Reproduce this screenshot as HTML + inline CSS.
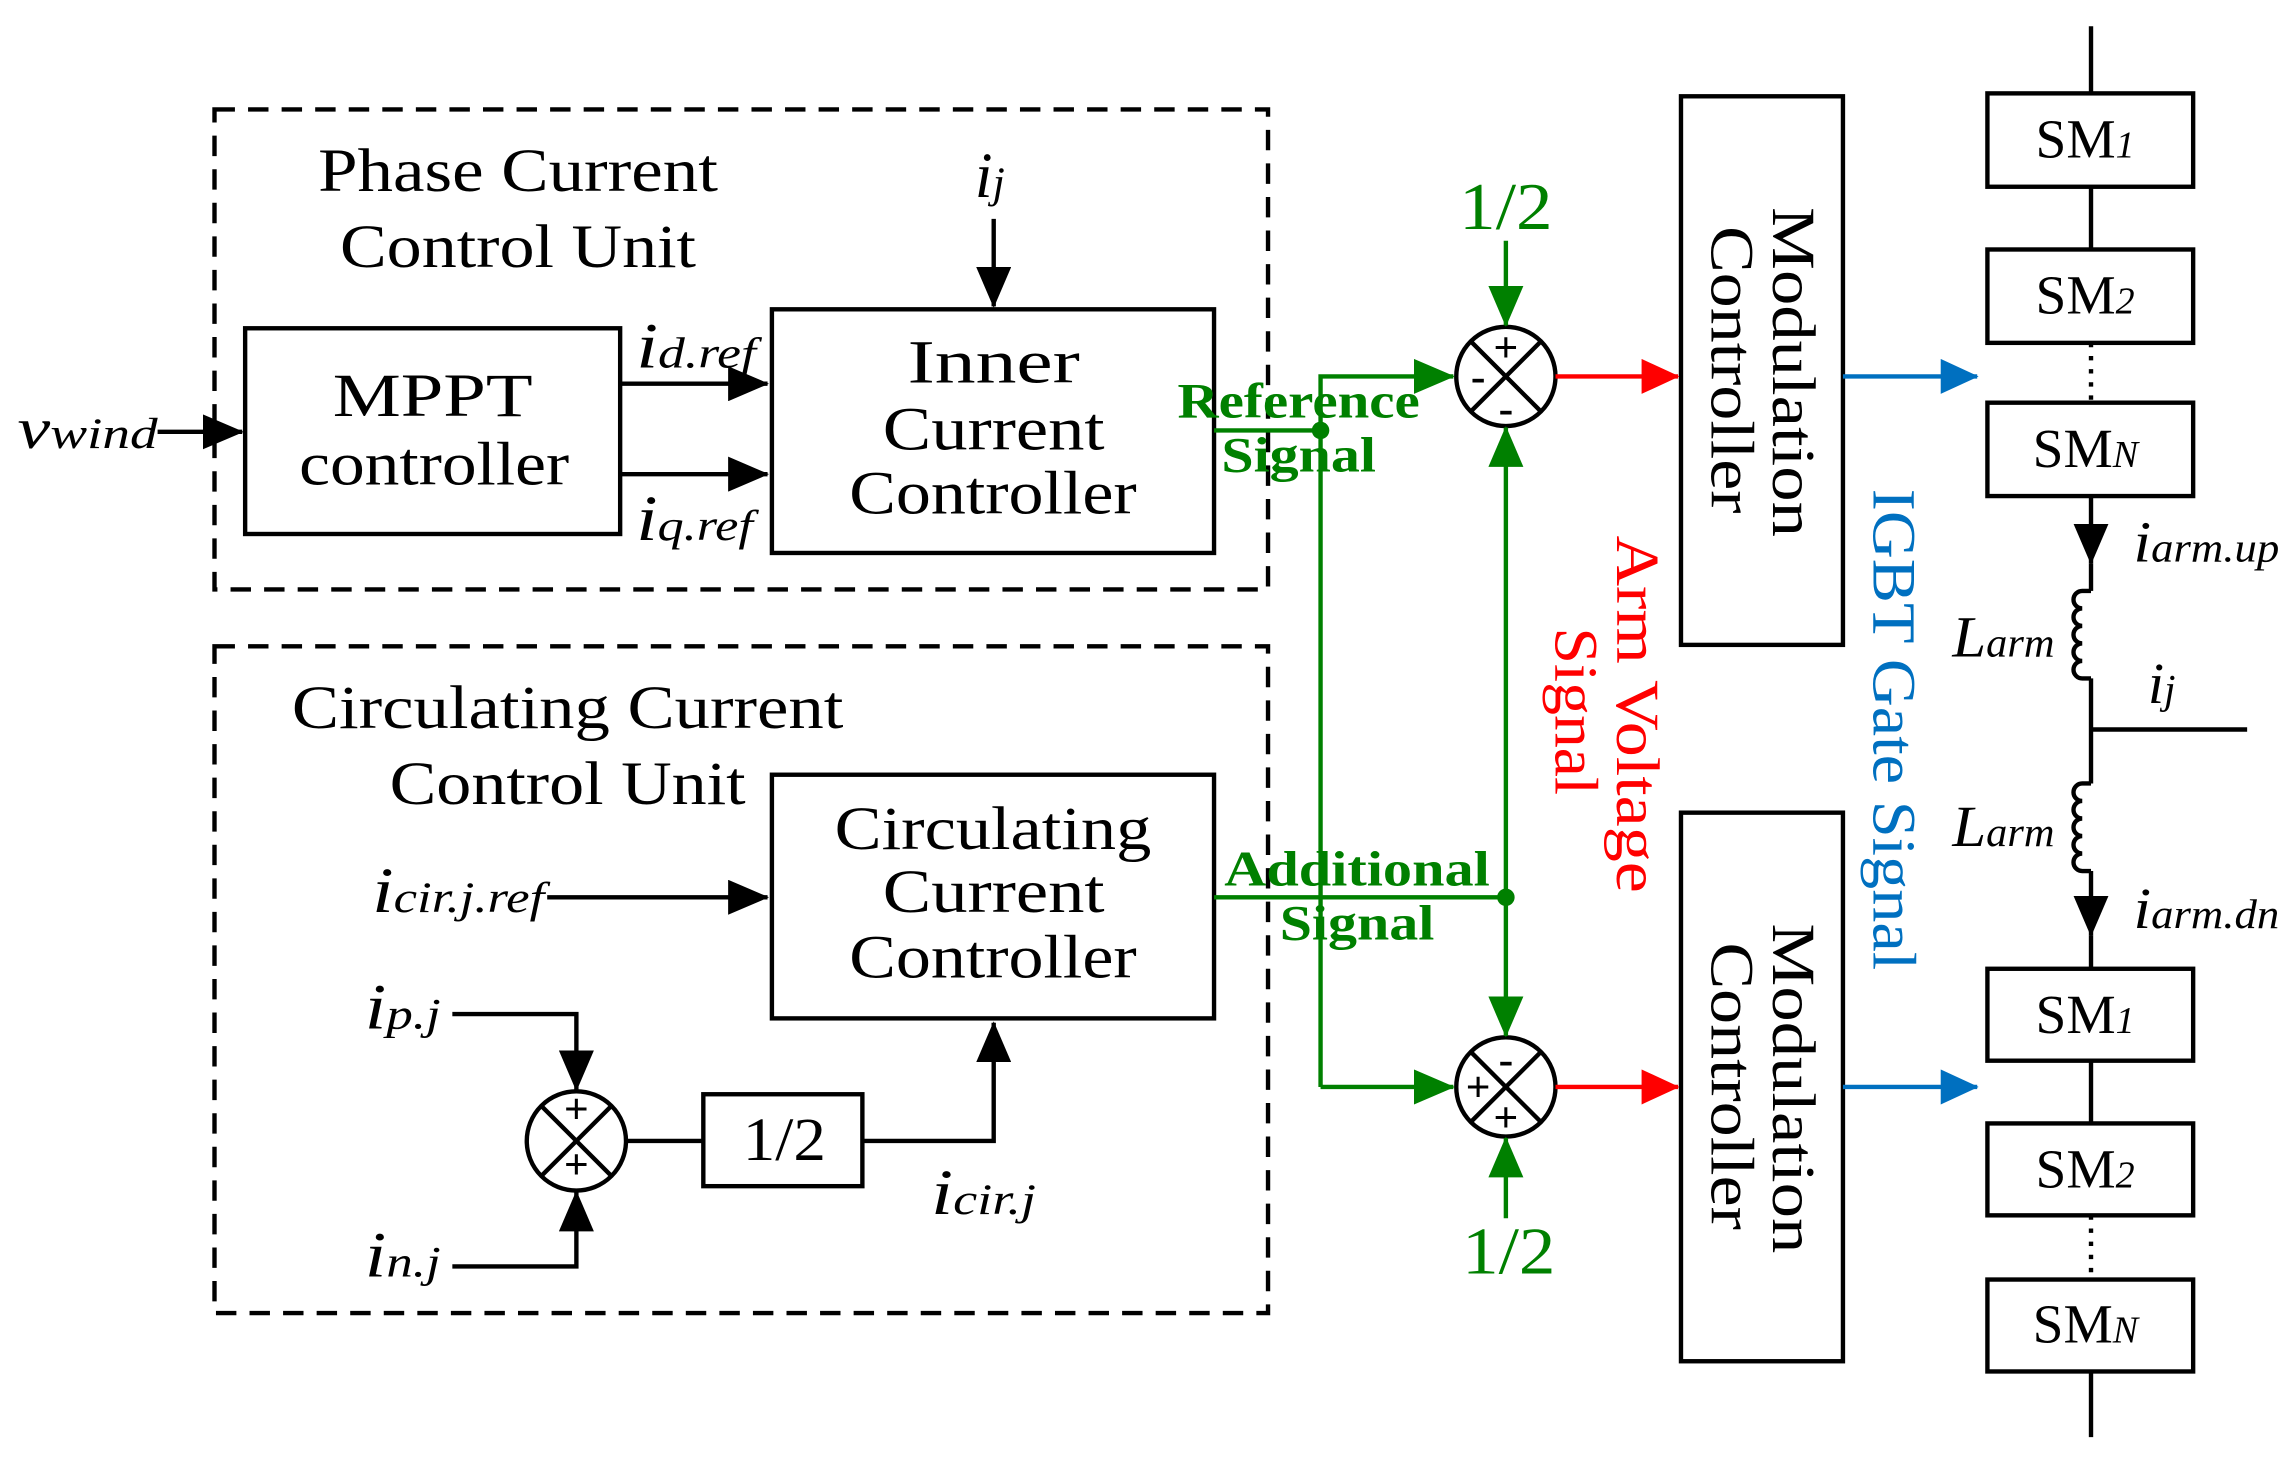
<!DOCTYPE html>
<html><head><meta charset="utf-8"><style>
html,body{margin:0;padding:0;background:#fff;}
svg{display:block;}
text{font-family:"Liberation Serif",serif;}
</style></head><body>
<svg width="2288" height="1459" viewBox="0 0 1568 1000" preserveAspectRatio="none" xmlns="http://www.w3.org/2000/svg">
<defs>
<marker id="ag" markerWidth="28" markerHeight="24" refX="27" refY="12" orient="auto" markerUnits="userSpaceOnUse"><path d="M0,0 L28,12 L0,24 z" fill="#008000"/></marker>
<marker id="ab" markerWidth="28" markerHeight="24" refX="27" refY="12" orient="auto" markerUnits="userSpaceOnUse"><path d="M0,0 L28,12 L0,24 z" fill="#000"/></marker>
<marker id="ar" markerWidth="26" markerHeight="24" refX="25" refY="12" orient="auto" markerUnits="userSpaceOnUse"><path d="M0,0 L26,12 L0,24 z" fill="#ff0000"/></marker>
<marker id="au" markerWidth="26" markerHeight="24" refX="25" refY="12" orient="auto" markerUnits="userSpaceOnUse"><path d="M0,0 L26,12 L0,24 z" fill="#0070c0"/></marker>
</defs>
<g fill="none" stroke="#000" stroke-width="3">
<rect x="147" y="75" width="722" height="329" stroke-dasharray="14,9"/>
<rect x="147" y="443" width="722" height="457" stroke-dasharray="14,9"/>
<rect x="168" y="225" width="257" height="141"/>
<rect x="529" y="212" width="303" height="167"/>
<rect x="529" y="531" width="303" height="167"/>
<rect x="482" y="750" width="109" height="63"/>
<rect x="1152" y="66" width="111" height="376"/>
<rect x="1152" y="557" width="111" height="376"/>
<rect x="1362" y="64" width="141" height="64"/>
<rect x="1362" y="171" width="141" height="64"/>
<rect x="1362" y="276" width="141" height="64"/>
<rect x="1362" y="664" width="141" height="63"/>
<rect x="1362" y="770" width="141" height="63"/>
<rect x="1362" y="877" width="141" height="63"/>
</g>
<g stroke="#000" stroke-width="3" fill="none">
<line x1="108" y1="296" x2="166" y2="296" marker-end="url(#ab)"/>
<line x1="425" y1="263" x2="526" y2="263" marker-end="url(#ab)"/>
<line x1="425" y1="325" x2="526" y2="325" marker-end="url(#ab)"/>
<line x1="681" y1="150" x2="681" y2="210" marker-end="url(#ab)"/>
<line x1="375" y1="615" x2="526" y2="615" marker-end="url(#ab)"/>
<polyline points="310,695 395,695 395,747" marker-end="url(#ab)"/>
<polyline points="310,868 395,868 395,817" marker-end="url(#ab)"/>
<line x1="429" y1="782" x2="482" y2="782"/>
<polyline points="591,782 681,782 681,701" marker-end="url(#ab)"/>
<circle cx="395" cy="782" r="34"/>
<line x1="371" y1="758" x2="419" y2="806"/><line x1="419" y1="758" x2="371" y2="806"/>
<circle cx="1032" cy="258" r="34"/>
<line x1="1008" y1="234" x2="1056" y2="282"/><line x1="1056" y1="234" x2="1008" y2="282"/>
<circle cx="1032" cy="745" r="34"/>
<line x1="1008" y1="721" x2="1056" y2="769"/><line x1="1056" y1="721" x2="1008" y2="769"/>
<line x1="1433" y1="18" x2="1433" y2="64"/>
<line x1="1433" y1="128" x2="1433" y2="171"/>
<line x1="1433" y1="235" x2="1433" y2="276" stroke-dasharray="3,6"/>
<line x1="1433" y1="340" x2="1433" y2="386" marker-end="url(#ab)"/>
<line x1="1433" y1="386" x2="1433" y2="405"/>
<path d="M1433,405 h-6 a6,6 0 0 0 0,12 a6,6 0 0 0 0,12 a6,6 0 0 0 0,12 a6,6 0 0 0 0,12 a6,6 0 0 0 0,12 h6"/>
<line x1="1433" y1="465" x2="1433" y2="537"/>
<line x1="1433" y1="500" x2="1540" y2="500"/>
<path d="M1433,537 h-6 a6,6 0 0 0 0,12 a6,6 0 0 0 0,12 a6,6 0 0 0 0,12 a6,6 0 0 0 0,12 a6,6 0 0 0 0,12 h6"/>
<line x1="1433" y1="597" x2="1433" y2="641" marker-end="url(#ab)"/>
<line x1="1433" y1="641" x2="1433" y2="664"/>
<line x1="1433" y1="727" x2="1433" y2="770"/>
<line x1="1433" y1="833" x2="1433" y2="877" stroke-dasharray="3,6"/>
<line x1="1433" y1="940" x2="1433" y2="985"/>
</g>
<g stroke="#008000" stroke-width="3" fill="none">
<line x1="832" y1="295" x2="905" y2="295"/>
<polyline points="905,745 905,258 996,258" marker-end="url(#ag)"/>
<line x1="905" y1="745" x2="996" y2="745" marker-end="url(#ag)"/>
<line x1="832" y1="615" x2="1032" y2="615"/>
<line x1="1032" y1="615" x2="1032" y2="293" marker-end="url(#ag)"/>
<line x1="1032" y1="615" x2="1032" y2="710" marker-end="url(#ag)"/>
<line x1="1032" y1="165" x2="1032" y2="223" marker-end="url(#ag)"/>
<line x1="1032" y1="835" x2="1032" y2="780" marker-end="url(#ag)"/>
</g>
<circle cx="905" cy="295" r="6" fill="#008000"/>
<circle cx="1032" cy="615" r="6" fill="#008000"/>
<line x1="1066" y1="258" x2="1150" y2="258" stroke="#f00" stroke-width="3" marker-end="url(#ar)"/>
<line x1="1066" y1="745" x2="1150" y2="745" stroke="#f00" stroke-width="3" marker-end="url(#ar)"/>
<line x1="1263" y1="258" x2="1355" y2="258" stroke="#0070c0" stroke-width="3" marker-end="url(#au)"/>
<line x1="1263" y1="745" x2="1355" y2="745" stroke="#0070c0" stroke-width="3" marker-end="url(#au)"/>
<g font-size="42" fill="#000" lengthAdjust="spacingAndGlyphs">
<text x="218" y="131" textLength="274" lengthAdjust="spacingAndGlyphs">Phase Current</text>
<text x="233" y="183" textLength="244" lengthAdjust="spacingAndGlyphs">Control Unit</text>
<text x="228" y="285" textLength="137" lengthAdjust="spacingAndGlyphs">MPPT</text>
<text x="205" y="332" textLength="185" lengthAdjust="spacingAndGlyphs">controller</text>
<text x="622" y="262" textLength="118" lengthAdjust="spacingAndGlyphs">Inner</text>
<text x="605" y="308" textLength="152" lengthAdjust="spacingAndGlyphs">Current</text>
<text x="582" y="352" textLength="197" lengthAdjust="spacingAndGlyphs">Controller</text>
<text x="200" y="499" textLength="378" lengthAdjust="spacingAndGlyphs">Circulating Current</text>
<text x="267" y="551" textLength="244" lengthAdjust="spacingAndGlyphs">Control Unit</text>
<text x="572" y="582" textLength="217" lengthAdjust="spacingAndGlyphs">Circulating</text>
<text x="605" y="625" textLength="152" lengthAdjust="spacingAndGlyphs">Current</text>
<text x="582" y="670" textLength="197" lengthAdjust="spacingAndGlyphs">Controller</text>
<text x="509" y="795" textLength="57" lengthAdjust="spacingAndGlyphs">1/2</text>
</g>
<g font-size="38" fill="#000">
<text x="1395" y="108">SM<tspan font-style="italic" font-size="26">1</tspan></text>
<text x="1395" y="215">SM<tspan font-style="italic" font-size="26">2</tspan></text>
<text x="1393" y="320">SM<tspan font-style="italic" font-size="26">N</tspan></text>
<text x="1395" y="708">SM<tspan font-style="italic" font-size="26">1</tspan></text>
<text x="1395" y="814">SM<tspan font-style="italic" font-size="26">2</tspan></text>
<text x="1393" y="920">SM<tspan font-style="italic" font-size="26">N</tspan></text>
</g>
<g font-style="italic" fill="#000">
<text x="12" y="307" font-size="40" textLength="96" lengthAdjust="spacingAndGlyphs">v<tspan font-size="30">wind</tspan></text>
<text x="436" y="252" font-size="44" textLength="82" lengthAdjust="spacingAndGlyphs">i<tspan font-size="30">d.ref</tspan></text>
<text x="436" y="370" font-size="44" textLength="80" lengthAdjust="spacingAndGlyphs">i<tspan font-size="30">q.ref</tspan></text>
<text x="668" y="135" font-size="44">i<tspan font-size="30">j</tspan></text>
<text x="255" y="625" font-size="44" textLength="118" lengthAdjust="spacingAndGlyphs">i<tspan font-size="30">cir.j.ref</tspan></text>
<text x="250" y="705" font-size="44" textLength="52" lengthAdjust="spacingAndGlyphs">i<tspan font-size="30">p.j</tspan></text>
<text x="250" y="875" font-size="44" textLength="52" lengthAdjust="spacingAndGlyphs">i<tspan font-size="30">n.j</tspan></text>
<text x="638" y="832" font-size="44" textLength="72" lengthAdjust="spacingAndGlyphs">i<tspan font-size="30">cir.j</tspan></text>
<text x="1462" y="385" font-size="40" textLength="100" lengthAdjust="spacingAndGlyphs">i<tspan font-size="28">arm.up</tspan></text>
<text x="1462" y="636" font-size="40" textLength="100" lengthAdjust="spacingAndGlyphs">i<tspan font-size="28">arm.dn</tspan></text>
<text x="1338" y="450" font-size="40" textLength="70" lengthAdjust="spacingAndGlyphs">L<tspan font-size="28">arm</tspan></text>
<text x="1338" y="580" font-size="40" textLength="70" lengthAdjust="spacingAndGlyphs">L<tspan font-size="28">arm</tspan></text>
<text x="1472" y="482" font-size="40">i<tspan font-size="28">j</tspan></text>
</g>
<g font-size="30" font-weight="bold" text-anchor="middle">
<text x="1032" y="248">+</text><text x="1013" y="268">-</text><text x="1032" y="290">-</text>
<text x="1032" y="736">-</text><text x="1013" y="755">+</text><text x="1032" y="776">+</text>
<text x="395" y="770">+</text><text x="395" y="808">+</text>
</g>
<g fill="#008000">
<text x="807" y="286" font-size="34" font-weight="bold" textLength="166" lengthAdjust="spacingAndGlyphs">Reference</text>
<text x="837" y="323" font-size="34" font-weight="bold" textLength="106" lengthAdjust="spacingAndGlyphs">Signal</text>
<text x="839" y="607" font-size="34" font-weight="bold" textLength="182" lengthAdjust="spacingAndGlyphs">Additional</text>
<text x="877" y="644" font-size="34" font-weight="bold" textLength="106" lengthAdjust="spacingAndGlyphs">Signal</text>
<text x="1000" y="157" font-size="46" textLength="64" lengthAdjust="spacingAndGlyphs">1/2</text>
<text x="1002" y="873" font-size="46" textLength="64" lengthAdjust="spacingAndGlyphs">1/2</text>
</g>
<g font-size="42">
<text transform="translate(1207,142) rotate(90)" y="-8" textLength="226" lengthAdjust="spacingAndGlyphs">Modulation</text>
<text transform="translate(1207,155) rotate(90)" y="34" textLength="197" lengthAdjust="spacingAndGlyphs">Controller</text>
<text transform="translate(1207,633) rotate(90)" y="-8" textLength="226" lengthAdjust="spacingAndGlyphs">Modulation</text>
<text transform="translate(1207,646) rotate(90)" y="34" textLength="197" lengthAdjust="spacingAndGlyphs">Controller</text>
<text transform="translate(1100,367) rotate(90)" y="-8" fill="#ff0000" textLength="245" lengthAdjust="spacingAndGlyphs">Arm Voltage</text>
<text transform="translate(1100,430) rotate(90)" y="34" fill="#ff0000" textLength="115" lengthAdjust="spacingAndGlyphs">Signal</text>
<text transform="translate(1297,335) rotate(90)" y="13" fill="#0070c0" textLength="330" lengthAdjust="spacingAndGlyphs">IGBT Gate Signal</text>
</g>
</svg>
</body></html>
